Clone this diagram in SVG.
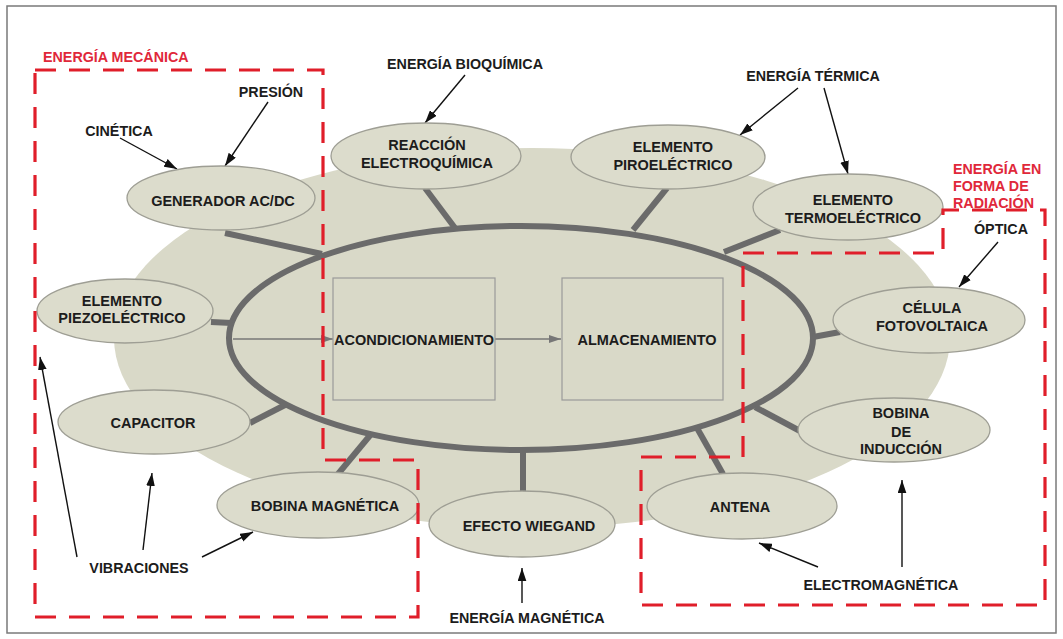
<svg xmlns="http://www.w3.org/2000/svg" width="1063" height="639" viewBox="0 0 1063 639">
<defs>
<marker id="ah" viewBox="0 0 12 8" markerWidth="13" markerHeight="9" refX="12" refY="4" orient="auto" markerUnits="userSpaceOnUse"><path d="M0,0 L12,4 L0,8 z" fill="#111"/></marker>
<marker id="ahg" viewBox="0 0 12 8" markerWidth="12" markerHeight="8" refX="12" refY="4" orient="auto" markerUnits="userSpaceOnUse"><path d="M0,0 L12,4 L0,8 z" fill="#777"/></marker>
<style>
.node{fill:#dcdccc;stroke:#9e9e94;stroke-width:1.3}
.t{font-family:"Liberation Sans",Arial,sans-serif;font-weight:bold;font-size:14.5px;fill:#1c1c1c;text-anchor:middle}
.lab{font-family:"Liberation Sans",Arial,sans-serif;font-weight:bold;font-size:14.3px;fill:#1c1c1c;text-anchor:middle}
.red{font-family:"Liberation Sans",Arial,sans-serif;font-weight:bold;font-size:14.3px;fill:#e0283a}
.spoke{stroke:#6b6b6b;stroke-width:6;fill:none}
.arr{stroke:#111;stroke-width:1.4;fill:none;marker-end:url(#ah)}
.garr{stroke:#777;stroke-width:1.4;fill:none;marker-end:url(#ahg)}
.box{fill:none;stroke:#9a9a9a;stroke-width:1.2}
.dash{fill:none;stroke:#e01e2a;stroke-width:3.2;stroke-dasharray:21 13}
</style>
</defs>
<rect x="7" y="6" width="1049" height="627" fill="#fff" stroke="#7a7a7a" stroke-width="1.5"/>
<ellipse id="blob" cx="532" cy="338" rx="418" ry="190" fill="#d9d9c8"/>
<g id="connectors">
<ellipse cx="521" cy="338" rx="292" ry="112" fill="none" stroke="#6b6b6b" stroke-width="6"/>
<line class="spoke" x1="225" y1="233" x2="322" y2="254"/>
<line class="spoke" x1="425" y1="188" x2="455" y2="228"/>
<line class="spoke" x1="667" y1="188" x2="633" y2="230"/>
<line class="spoke" x1="780" y1="230" x2="724" y2="252"/>
<line class="spoke" x1="840" y1="332" x2="813" y2="337"/>
<line class="spoke" x1="800" y1="431" x2="755" y2="407"/>
<line class="spoke" x1="723" y1="474" x2="697" y2="428"/>
<line class="spoke" x1="523" y1="492" x2="523" y2="450"/>
<line class="spoke" x1="338" y1="474" x2="372" y2="433"/>
<line class="spoke" x1="250" y1="423" x2="287" y2="404"/>
<line class="spoke" x1="211" y1="322" x2="232" y2="323"/>
<line class="garr" x1="233" y1="339" x2="333" y2="339"/>
<line class="garr" x1="495" y1="339" x2="561" y2="339"/>
<line class="arr" x1="268" y1="102" x2="225" y2="166"/>
<line class="arr" x1="120" y1="138" x2="177" y2="169"/>
<line class="arr" x1="465" y1="75" x2="425" y2="123"/>
<line class="arr" x1="798" y1="88" x2="740" y2="135"/>
<line class="arr" x1="824" y1="88" x2="848" y2="174"/>
<line class="arr" x1="998" y1="242" x2="959" y2="287"/>
<line class="arr" x1="77" y1="557" x2="40" y2="357"/>
<line class="arr" x1="143" y1="550" x2="152" y2="473"/>
<line class="arr" x1="202" y1="557" x2="253" y2="532"/>
<line class="arr" x1="522" y1="603" x2="522" y2="568"/>
<line class="arr" x1="818" y1="567" x2="759" y2="543"/>
<line class="arr" x1="902" y1="567" x2="902" y2="480"/>
</g>
<g id="acondicionamiento"><rect class="box" x="333" y="278" width="162" height="122"/><text class="t" x="414" y="345">ACONDICIONAMIENTO</text></g>
<g id="almacenamiento"><rect class="box" x="562" y="278" width="161" height="122"/><text class="t" x="647" y="345">ALMACENAMIENTO</text></g>
<g id="generador"><ellipse class="node" cx="221" cy="198" rx="94" ry="32"/><text class="t" x="223" y="206">GENERADOR AC/DC</text></g>
<g id="reaccion"><ellipse class="node" cx="426" cy="156" rx="95" ry="33"/><text class="t" x="427" y="150">REACCIÓN</text><text class="t" x="427" y="168">ELECTROQUÍMICA</text></g>
<g id="piro"><ellipse class="node" cx="668" cy="157" rx="97" ry="32"/><text class="t" x="673" y="152">ELEMENTO</text><text class="t" x="673" y="170">PIROELÉCTRICO</text></g>
<g id="termo"><ellipse class="node" cx="848" cy="207" rx="95" ry="33"/><text class="t" x="853" y="205">ELEMENTO</text><text class="t" x="853" y="223">TERMOELÉCTRICO</text></g>
<g id="celula"><ellipse class="node" cx="929" cy="320" rx="96" ry="33"/><text class="t" x="932" y="313">CÉLULA</text><text class="t" x="932" y="331">FOTOVOLTAICA</text></g>
<g id="bobina-induccion"><ellipse class="node" cx="894" cy="430" rx="96" ry="32"/><text class="t" x="901" y="418">BOBINA</text><text class="t" x="901" y="437">DE</text><text class="t" x="901" y="454">INDUCCIÓN</text></g>
<g id="antena"><ellipse class="node" cx="742" cy="506" rx="95" ry="33"/><text class="t" x="740" y="512">ANTENA</text></g>
<g id="wiegand"><ellipse class="node" cx="522" cy="524" rx="93" ry="33"/><text class="t" x="529" y="531">EFECTO WIEGAND</text></g>
<g id="bobina-magnetica"><ellipse class="node" cx="318" cy="505" rx="101" ry="33"/><text class="t" x="325" y="511">BOBINA MAGNÉTICA</text></g>
<g id="capacitor"><ellipse class="node" cx="154" cy="422" rx="96" ry="32"/><text class="t" x="153" y="428">CAPACITOR</text></g>
<g id="piezo"><ellipse class="node" cx="125" cy="311" rx="88" ry="32"/><text class="t" x="122" y="306">ELEMENTO</text><text class="t" x="122" y="323">PIEZOELÉCTRICO</text></g>
<g id="groups">
<path class="dash" d="M35,70 H323 V460 H418 V617 H35 Z"/>
<path class="dash" d="M743,253 H943 V210 H1045 V605 H641 V457 H743 Z"/>
<text class="red" x="43" y="62">ENERGÍA MECÁNICA</text>
<text class="red" x="953" y="174">ENERGÍA EN</text>
<text class="red" x="953" y="191">FORMA DE</text>
<text class="red" x="953" y="208">RADIACIÓN</text>
</g>
<g id="labels">
<text class="lab" x="271" y="97">PRESIÓN</text>
<text class="lab" x="119" y="136">CINÉTICA</text>
<text class="lab" x="465" y="69">ENERGÍA BIOQUÍMICA</text>
<text class="lab" x="813" y="81">ENERGÍA TÉRMICA</text>
<text class="lab" x="1001" y="234">ÓPTICA</text>
<text class="lab" x="139" y="573">VIBRACIONES</text>
<text class="lab" x="527" y="623">ENERGÍA MAGNÉTICA</text>
<text class="lab" x="881" y="590">ELECTROMAGNÉTICA</text>
</g>
</svg>
